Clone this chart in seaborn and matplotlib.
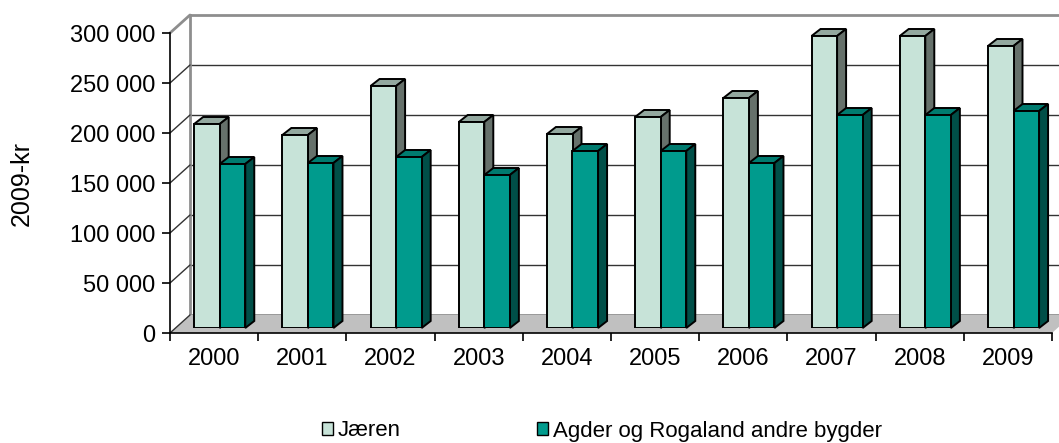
import numpy as np
import pandas as pd
import seaborn as sns
import matplotlib.pyplot as plt
from matplotlib.patches import Polygon, Patch
from matplotlib.lines import Line2D
from matplotlib.transforms import IdentityTransform
from matplotlib.ticker import FixedLocator, FuncFormatter, NullFormatter

# values (2009-kr)
years = ["2000", "2001", "2002", "2003", "2004", "2005", "2006", "2007", "2008", "2009"]
jaeren = [204000, 193000, 242000, 206000, 194000, 211000, 230000, 292000, 292000, 282000]
agder = [164000, 165000, 171000, 153000, 177000, 177000, 165000, 213000, 213000, 217000]
series = ["Jæren", "Agder og Rogaland andre bygder"]
y_ticks = [0, 50000, 100000, 150000, 200000, 250000, 300000]

front_cols = ["#C7E3D8", "#009B8D"]
top_cols = ["#93A89F", "#007B6F"]
side_cols = ["#66716B", "#004F48"]

df = pd.DataFrame({
    "year": years * 2,
    "value": jaeren + agder,
    "series": [series[0]] * len(years) + [series[1]] * len(years),
})

W, H = 1059, 443
FS = 17
sns.set_theme(style="white")
plt.rcParams["font.family"] = ["Liberation Sans", "DejaVu Sans"]
plt.rcParams["text.color"] = "black"

fig = plt.figure(figsize=(W / 100, H / 100), dpi=100)

PW, PH = 882, 300  # plot box size in px


def box(x0, y_zero):
    return [x0 / W, (H - y_zero) / H, PW / W, PH / H]


ax_back = fig.add_axes(box(190, 315))
ax_bar = fig.add_axes(box(175.6, 328))
ax_front = fig.add_axes(box(170, 333))
ax_back.set_zorder(0)
ax_bar.set_zorder(2)
ax_front.set_zorder(3)

xlim = (-0.5, len(years) - 0.5)
ylim = (0, 300000)
for a in (ax_back, ax_bar, ax_front):
    a.set_xlim(*xlim)
    a.set_ylim(*ylim)

# back wall
wall_grey = "#8E8E8E"
ax_back.set_facecolor("white")
ax_back.set_xticks([])
ax_back.set_yticks(y_ticks[1:-1])
ax_back.tick_params(left=False, labelleft=False)
ax_back.grid(axis="y", color="#333333", lw=1)
for s in ["left", "top", "bottom"]:
    ax_back.spines[s].set_color(wall_grey)
    ax_back.spines[s].set_linewidth(2)
ax_back.spines["right"].set_visible(False)

# floor and side wall, from the two planes
fig.canvas.draw()
f0 = ax_front.transData.transform((xlim[0], 0))
f1 = ax_front.transData.transform((xlim[1], 0))
b0 = ax_back.transData.transform((xlim[0], 0))
b1 = ax_back.transData.transform((xlim[1], 0))
ax_back.add_patch(Polygon([f0, f1, b1, b0], closed=True, facecolor="#C0C0C0",
                          edgecolor="none", transform=IdentityTransform(),
                          clip_on=False, zorder=3))
for v in y_ticks:
    p = ax_front.transData.transform((xlim[0], v))
    q = ax_back.transData.transform((xlim[0], v))
    col = wall_grey if v == y_ticks[-1] else "#333333"
    lw = 2 if v == y_ticks[-1] else 1
    ax_back.add_line(Line2D([p[0], q[0]], [p[1], q[1]], color=col, lw=lw,
                            transform=IdentityTransform(), clip_on=False, zorder=4))

# bars (front faces) through seaborn
sns.barplot(data=df, x="year", y="value", hue="series", palette=front_cols,
            width=0.58, saturation=1, edgecolor="black", linewidth=1.4,
            legend=False, ax=ax_bar)
ax_bar.set_xlim(*xlim)
ax_bar.set_ylim(*ylim)
ax_bar.axis("off")

# 3d top and side faces
dx = 9 / (PW / len(years))
dy = 7 * (ylim[1] - ylim[0]) / PH
bars = list(ax_bar.patches)
n = len(years)
for i, bar in enumerate(bars):
    k = i // n
    z = 2 + 2 * k
    bar.set_zorder(z + 0.5)
    x0, y0 = bar.get_x(), bar.get_y()
    x1, y1 = x0 + bar.get_width(), y0 + bar.get_height()
    top = Polygon([(x0, y1), (x1, y1), (x1 + dx, y1 + dy), (x0 + dx, y1 + dy)],
                  closed=True, facecolor=top_cols[k], edgecolor="black",
                  lw=1.4, clip_on=False, zorder=z)
    side = Polygon([(x1, y0), (x1, y1), (x1 + dx, y1 + dy), (x1 + dx, y0 + dy)],
                   closed=True, facecolor=side_cols[k], edgecolor="black",
                   lw=1.4, clip_on=False, zorder=z)
    ax_bar.add_patch(top)
    ax_bar.add_patch(side)

# front axes: spines, ticks, labels
ax_front.patch.set_alpha(0)
ax_front.spines["top"].set_visible(False)
ax_front.spines["right"].set_visible(False)
for s in ["left", "bottom"]:
    ax_front.spines[s].set_color("black")
    ax_front.spines[s].set_linewidth(1.2)
ax_front.set_yticks(y_ticks)
ax_front.yaxis.set_major_formatter(
    FuncFormatter(lambda v, _: f"{int(v):,}".replace(",", " ")))
ax_front.tick_params(axis="y", left=True, direction="out", length=6, width=1.2,
                     pad=4.5, labelsize=FS, colors="black")
ax_front.xaxis.set_major_locator(FixedLocator(np.arange(-0.5, len(years), 1.0)))
ax_front.xaxis.set_major_formatter(NullFormatter())
ax_front.xaxis.set_minor_locator(FixedLocator(np.arange(len(years))))
ax_front.set_xticklabels(years, minor=True)
ax_front.tick_params(axis="x", which="major", bottom=True, direction="out",
                     length=6, width=1.2, color="black")
ax_front.tick_params(axis="x", which="minor", bottom=True, length=0, pad=11,
                     labelsize=FS, labelcolor="black")
ax_front.set_xlabel("")
ax_front.set_ylabel("")

fig.text(22 / W, 1 - 183 / H, "2009-kr", rotation=90, ha="center",
         va="center", fontsize=18, color="black")

handles = [Patch(facecolor=c, edgecolor="black", lw=1) for c in front_cols]
fig.legend(handles, series, loc="center left", bbox_to_anchor=(322 / W, 1 - 431 / H),
           ncol=2, frameon=False, fontsize=16, borderpad=0, borderaxespad=0,
           handlelength=0.5, handleheight=0.5, handletextpad=0.22,
           columnspacing=6.1, labelcolor="black")

fig.savefig("out.png", dpi=100)
